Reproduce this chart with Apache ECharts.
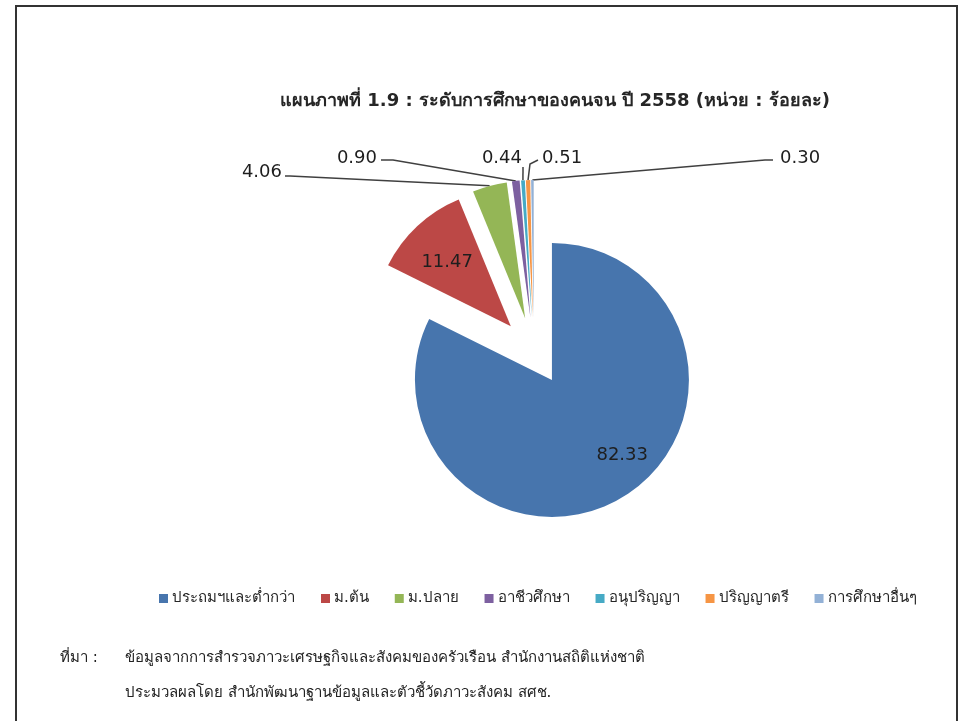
<!DOCTYPE html>
<html><head><meta charset="utf-8">
<script src="https://cdn.jsdelivr.net/npm/echarts@6/dist/echarts.min.js"></script>
<style>
html,body{margin:0;padding:0;background:#fff;}
#c{width:964px;height:721px;position:absolute;left:0;top:0;}
#frame{position:absolute;left:15px;top:5px;width:939px;height:740px;border:2px solid #333;pointer-events:none;}
</style>
</head><body><div id="c"></div><div id="frame"></div>
<script>
var categories = ['ประถมฯและต่ำกว่า', 'ม.ต้น', 'ม.ปลาย', 'อาชีวศึกษา', 'อนุปริญญา', 'ปริญญาตรี', 'การศึกษาอื่นๆ'];
var values = [82.33, 11.47, 4.06, 0.90, 0.44, 0.51, 0.30];
var valueLabels = ['82.33', '11.47', '4.06', '0.90', '0.44', '0.51', '0.30'];
var titleText = 'แผนภาพที่ 1.9 : ระดับการศึกษาของคนจน ปี 2558 (หน่วย : ร้อยละ)';
var sourceLabel = 'ที่มา :';
var sourceLine1 = 'ข้อมูลจากการสำรวจภาวะเศรษฐกิจและสังคมของครัวเรือน สำนักงานสถิติแห่งชาติ';
var sourceLine2 = 'ประมวลผลโดย สำนักพัฒนาฐานข้อมูลและตัวชี้วัดภาวะสังคม สศช.';

var colors = ['#4775AD', '#BC4846', '#94B656', '#7D60A0', '#46AAC5', '#F69544', '#93B1D6'];
var FONT = 'Tahoma, "DejaVu Sans", sans-serif';

// pie geometry (explosion: every slice pushed out along its bisector)
var CX = 534, CY = 351, R = 137, OFF = 34;
var total = values.reduce(function (a, b) { return a + b; }, 0);
function midAngle(i) {
  var cum = 0;
  for (var k = 0; k < i; k++) cum += values[k];
  return (cum + values[i] / 2) / total * 2 * Math.PI;
}
function sliceCenter(i) {
  var a = midAngle(i);
  return [CX + OFF * Math.sin(a), CY - OFF * Math.cos(a)];
}
function slicePoint(i, d, ang) {
  var a = ang == null ? midAngle(i) : ang;
  var c = sliceCenter(i);
  return [c[0] + d * Math.sin(a), c[1] - d * Math.cos(a)];
}

var outerLabels = {
  2: { x: 282, y: 172, align: 'right', mid: [290, 176], end: [285, 176] },
  3: { x: 377, y: 158, align: 'right', mid: [393, 160], end: [381, 160] },
  4: { x: 522, y: 158, align: 'right', mid: [523, 167], end: [523, 167] },
  5: { x: 542, y: 158, align: 'left', mid: [530, 164], end: [538, 160] },
  6: { x: 780, y: 158, align: 'left', mid: [765, 160], end: [773, 160] }
};

function makeSeries(i) {
  return {
    type: 'pie',
    name: categories[i],
    center: sliceCenter(i),
    radius: R,
    startAngle: 90,
    clockwise: true,
    silent: true,
    avoidLabelOverlap: false,
    emphasis: { disabled: true },
    data: values.map(function (v, k) {
      var own = k === i;
      return {
        name: categories[k], value: v,
        itemStyle: { color: own ? colors[k] : 'rgba(0,0,0,0)' },
        label: { show: own },
        labelLine: { show: own && i >= 2 }
      };
    }),
    itemStyle: { borderWidth: 0 },
    label: {
      formatter: function (p) { return valueLabels[p.dataIndex]; },
      fontFamily: FONT, fontSize: 18, color: '#1e1e1e'
    },
    labelLine: { lineStyle: { color: '#404040', width: 1.5 } },
    labelLayout: function (p) {
      var k = p.dataIndex;
      if (k !== i) return {};
      if (k === 0) {
        var q = slicePoint(0, 0.77 * R, 136 * Math.PI / 180);
        return { x: q[0] - 3, y: q[1], align: 'center', verticalAlign: 'middle' };
      }
      if (k === 1) {
        var pt = slicePoint(1, 0.66 * R);
        return { x: pt[0] - 2, y: pt[1] + 2, align: 'center', verticalAlign: 'middle' };
      }
      var L = outerLabels[k];
      return {
        x: L.x, y: L.y, align: L.align, verticalAlign: 'middle',
        labelLinePoints: [slicePoint(k, R), L.mid, L.end]
      };
    }
  };
}

var chart = echarts.init(document.getElementById('c'), null, { renderer: 'canvas' });
chart.setOption({
  animation: false,
  backgroundColor: '#ffffff',
  title: [
    { text: titleText, left: 555, top: 92, textAlign: 'center', padding: 0,
      textStyle: { fontFamily: FONT, fontSize: 18, fontWeight: 'bold', color: '#262626' } },
    { text: sourceLabel, left: 60, top: 651, padding: 0,
      textStyle: { fontFamily: FONT, fontSize: 15, fontWeight: 'normal', color: '#222' } },
    { text: sourceLine1, left: 125, top: 651, padding: 0,
      textStyle: { fontFamily: FONT, fontSize: 15, fontWeight: 'normal', color: '#222' } },
    { text: sourceLine2, left: 125, top: 686, padding: 0,
      textStyle: { fontFamily: FONT, fontSize: 15, fontWeight: 'normal', color: '#222' } }
  ],
  legend: {
    data: categories.map(function (c, k) { return { name: c, itemStyle: { color: colors[k] } }; }),
    left: 159, top: 591, padding: 0,
    icon: 'rect', itemWidth: 9, itemHeight: 9, itemGap: 26,
    selectedMode: false,
    textStyle: { fontFamily: FONT, fontSize: 15, color: '#262626', padding: [0, 0, 0, -1] }
  },
  series: values.map(function (v, i) { return makeSeries(i); })
});
</script>
</body></html>
